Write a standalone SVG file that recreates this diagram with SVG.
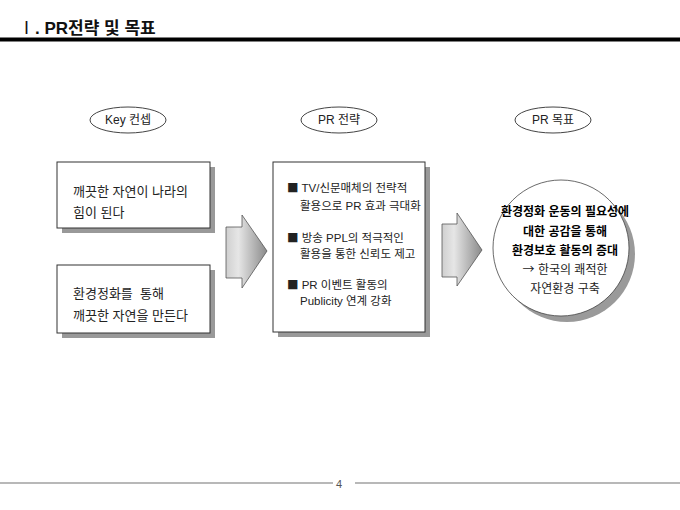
<svg xmlns="http://www.w3.org/2000/svg" width="680" height="510" viewBox="0 0 680 510">
<style>
  text { font-family: "Liberation Sans", "Noto Sans CJK KR", sans-serif; fill: #222; }
  .cjk { font-family: "Noto Sans CJK KR", sans-serif; }
  .box { fill: #fff; stroke: #333; stroke-width: 1; }
  .shadow { fill: #999; }
  .oval { fill: #fff; stroke: #444; stroke-width: 1; }
  .lbl { font-size: 12px; text-anchor: middle; }
  .t13 { font-size: 13px; }
  .t11 { font-size: 11.5px; }
  .c12 { font-size: 12px; text-anchor: middle; }
  .bold { font-weight: bold; fill: #000; }
  .arrow { fill: url(#ag); stroke: #555; stroke-width: 0.8; }
</style>
<defs>
  <linearGradient id="ag" x1="0" y1="0" x2="1" y2="0">
    <stop offset="0" stop-color="#cfcfcf"/>
    <stop offset="0.3" stop-color="#e6e6e6"/>
    <stop offset="1" stop-color="#8a8a8a"/>
  </linearGradient>
</defs>
<rect width="680" height="510" fill="#fff"/>

<g id="header">
  <text x="18" y="34" style="font-size:17px;font-weight:bold;fill:#111"><tspan class="cjk" style="font-weight:normal">Ⅰ</tspan>. PR전략 및 목표</text>
  <rect x="0" y="37.5" width="680" height="4" fill="#000"/>
</g>

<g id="footer">
  <line x1="0" y1="483" x2="333" y2="483" stroke="#a0a0a0" stroke-width="1.6"/>
  <line x1="355" y1="483" x2="680" y2="483" stroke="#a0a0a0" stroke-width="1.6"/>
  <text x="339" y="488" style="font-size:11px;fill:#555" text-anchor="middle">4</text>
</g>

<g id="oval-key">
  <ellipse class="oval" cx="128" cy="120" rx="38" ry="13"/>
  <text class="lbl" x="128" y="124">Key 컨셉</text>
</g>
<g id="oval-strategy">
  <ellipse class="oval" cx="339" cy="120" rx="38" ry="13"/>
  <text class="lbl" x="339" y="124">PR 전략</text>
</g>
<g id="oval-goal">
  <ellipse class="oval" cx="553" cy="120" rx="38" ry="13"/>
  <text class="lbl" x="553" y="124">PR 목표</text>
</g>

<g id="box-concept1">
  <rect class="shadow" x="62" y="167" width="153" height="66"/>
  <rect class="box" x="57" y="162" width="153" height="66"/>
  <text class="t13" x="73" y="196">깨끗한 자연이 나라의</text>
  <text class="t13" x="73" y="217">힘이 된다</text>
</g>
<g id="box-concept2">
  <rect class="shadow" x="62" y="270" width="153" height="68"/>
  <rect class="box" x="57" y="265" width="153" height="68"/>
  <text class="t13" x="73" y="298" xml:space="preserve">환경정화를  통해</text>
  <text class="t13" x="73" y="320">깨끗한 자연을 만든다</text>
</g>

<g id="box-strategy">
  <rect class="shadow" x="278" y="167" width="152" height="170"/>
  <rect class="box" x="273" y="162" width="152" height="170"/>
  <text class="t11" x="287" y="192"><tspan class="cjk">■</tspan> TV/신문매체의 전략적</text>
  <text class="t11" x="300" y="210">활용으로 PR 효과 극대화</text>
  <text class="t11" x="287" y="242"><tspan class="cjk">■</tspan> 방송 PPL의 적극적인</text>
  <text class="t11" x="300" y="258">활용을 통한 신뢰도 제고</text>
  <text class="t11" x="287" y="289"><tspan class="cjk">■</tspan> PR 이벤트 활동의</text>
  <text class="t11" x="300" y="305">Publicity 연계 강화</text>
</g>

<g id="goal-circle">
  <circle cx="567" cy="254" r="68" fill="#9a9a9a"/>
  <circle cx="561" cy="248" r="68" fill="#fff" stroke="#444" stroke-width="0.8"/>
  <text class="c12 bold" x="565" y="216">환경정화 운동의 필요성에</text>
  <text class="c12 bold" x="565" y="236">대한 공감을 통해</text>
  <text class="c12 bold" x="565" y="255">환경보호 활동의 증대</text>
  <text class="c12" x="565" y="274"><tspan class="cjk">→</tspan> 한국의 쾌적한</text>
  <text class="c12" x="565" y="293">자연환경 구축</text>
</g>

<g id="connectors">
  <polygon class="arrow" points="226,227 242,227 242,215 267,251 242,288 242,278 226,278"/>
  <polygon class="arrow" points="442,224 457,224 457,213 482,250 457,286 457,277 442,277"/>
</g>
</svg>
